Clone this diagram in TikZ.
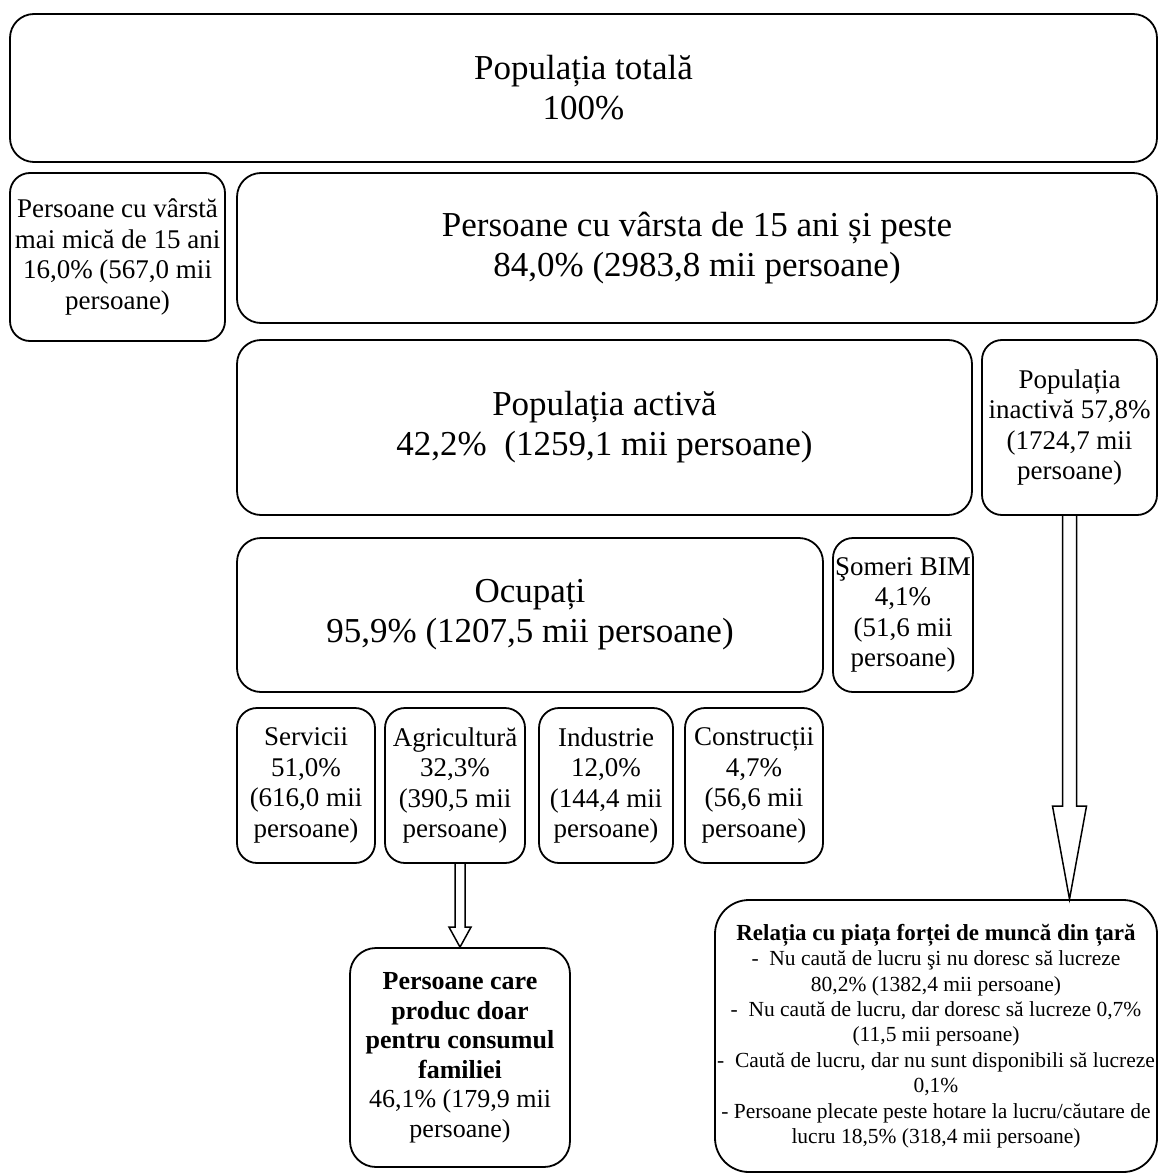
\documentclass[tikz,border=0pt]{standalone}
\usepackage{fontspec}
\setmainfont{Liberation Serif}
\usetikzlibrary{calc}

\tikzset{
	box/.style={draw, black, line width=1.8pt, rounded corners=24pt, align=center, inner sep=2pt},
	big/.style={box, font=\fontsize{35}{40}\selectfont},
	small/.style={box, rounded corners=20pt, inner sep=1pt, font=\fontsize{27}{30.5}\selectfont},
	hollow/.style={draw, black, line width=1.5pt, line join=miter}
}

\begin{document}
\begin{tikzpicture}[x=1pt, y=-1pt]
\useasboundingbox (0,0) rectangle (1160,1174);

\node (total) at (583.5,88) [big, minimum width=1147, minimum height=148] {Populația totală\\100\%};

\node (maimica) at (117.5,257) [small, minimum width=215, minimum height=168] {Persoane cu vârstă\\mai mică de 15 ani\\16,0\% (567,0 mii\\persoane)};
\node (peste) at (697,248) [big, minimum width=920, minimum height=150] {Persoane cu vârsta de 15 ani și peste\\84,0\% (2983,8 mii persoane)};

\node (activa) at (604.5,427.5) [big, minimum width=735, minimum height=175] {Populația activă\\42,2\%~ (1259,1 mii persoane)};
\node (inactiva) at (1069.5,427.5) [small, minimum width=175, minimum height=175] {Populația\\inactivă 57,8\%\\(1724,7 mii\\persoane)};

\node (ocupati) at (530,615) [big, minimum width=586, minimum height=154] {Ocupați\\95,9\% (1207,5 mii persoane)};
\node (someri) at (903,615) [small, minimum width=140, minimum height=154] {Şomeri BIM\\4,1\%\\(51,6 mii\\persoane)};

\node (servicii) at (306,785.5) [small, minimum width=138, minimum height=155] {Servicii\\51,0\%\\(616,0 mii\\persoane)};
\node (agricultura) at (455,785.5) [small, minimum width=140, minimum height=155] {Agricultură\\32,3\%\\(390,5 mii\\persoane)};
\node (industrie) at (606,785.5) [small, minimum width=134, minimum height=155] {Industrie\\12,0\%\\(144,4 mii\\persoane)};
\node (constructii) at (754,785.5) [small, minimum width=138, minimum height=155] {Construcții\\4,7\%\\(56,6 mii\\persoane)};

\node (familie) at (460,1057.5) [small, rounded corners=26pt, minimum width=220, minimum height=219, font=\fontsize{26}{29.5}\selectfont] {\textbf{Persoane care}\\\textbf{produc doar}\\\textbf{pentru consumul}\\\textbf{familiei}\\46,1\% (179,9 mii\\persoane)};

\node (relatia) at (936,1036) [box, rounded corners=34pt, minimum width=442, minimum height=272, font=\fontsize{21.5}{25.4}\selectfont] {{\fontsize{23}{25.4}\selectfont\bfseries Relația cu piața forței de muncă din țară}\\-~ Nu caută de lucru şi nu doresc să lucreze\\80,2\% (1382,4 mii persoane)\\-~ Nu caută de lucru, dar doresc să lucreze 0,7\%\\(11,5 mii persoane)\\-~ Caută de lucru, dar nu sunt disponibili să lucreze\\0,1\%\\- Persoane plecate peste hotare la lucru/căutare de\\lucru 18,5\% (318,4 mii persoane)};

% hollow arrows
\draw [hollow] let \p1=(agricultura.south), \p2=(familie.north) in
	(\x2-5pt,\y1) -- (\x2-5pt,\y2+20pt) -- (\x2-11pt,\y2+20pt) -- (\x2,\y2) -- (\x2+11pt,\y2+20pt) -- (\x2+5pt,\y2+20pt) -- (\x2+5pt,\y1);
\draw [hollow] let \p1=(inactiva.south), \p2=(relatia.north) in
	(\x1-7pt,\y1) -- (\x1-7pt,\y2+93pt) -- (\x1-17pt,\y2+93pt) -- (\x1,\y2) -- (\x1+17pt,\y2+93pt) -- (\x1+7pt,\y2+93pt) -- (\x1+7pt,\y1);

\end{tikzpicture}
\end{document}
